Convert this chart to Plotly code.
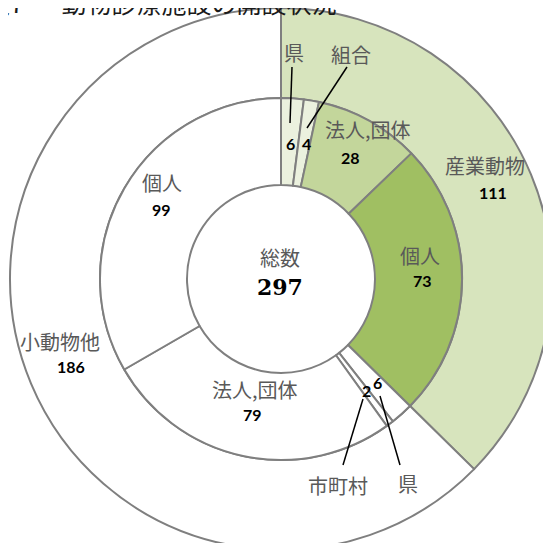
import plotly.graph_objects as go

# data
group_labels = ["産業動物", "小動物他"]
group_values = [111, 186]
sub_labels = ["県", "組合", "法人,団体", "個人", "県", "市町村", "法人,団体", "個人"]
sub_values = [6, 4, 28, 73, 6, 2, 79, 99]
total_label = "総数"
total_value = sum(group_values)
title_text = "表7\u3000\u2002動物診療施設の開設状況"

group_colors = ["#D7E4BD", "#FFFFFF"]
sub_colors = ["#EBF1DE", "#EBF1DE", "#C3D69B", "#A0BF62",
              "#FFFFFF", "#FFFFFF", "#FFFFFF", "#FFFFFF"]

W, H = 551, 543
PAGE = 8  # body margin of the html page shifts the figure by this much
CX, CY = 281, 279
R_OUT, R_MID, R_HOLE = 271, 181, 94
EDGE = "#7F7F7F"
LABEL_FONT = dict(family="Noto Sans CJK JP", size=20, color="#595959")
NUM_FONT = dict(family="Lato", size=16, color="black")


def px(x, y):
    # page pixel -> paper coords
    return (x - PAGE) / W, 1 - (y - PAGE) / H


def domain(r):
    x0, y1 = px(CX - r, CY - r)
    x1, y0 = px(CX + r, CY + r)
    return dict(x=[max(x0, 0), min(x1, 1)], y=[max(y0, 0), min(y1, 1)])


fig = go.Figure()
fig.add_trace(go.Pie(
    labels=group_labels, values=group_values, sort=False, direction="clockwise",
    rotation=0, hole=R_MID / R_OUT, domain=domain(R_OUT), textinfo="none",
    marker=dict(colors=group_colors, line=dict(color=EDGE, width=2)),
    hoverinfo="skip", showlegend=False,
))
fig.add_trace(go.Pie(
    labels=[f"{i}-{s}" for i, s in enumerate(sub_labels)],
    values=sub_values, sort=False, direction="clockwise",
    rotation=0, hole=R_HOLE / R_MID, domain=domain(R_MID), textinfo="none",
    marker=dict(colors=sub_colors, line=dict(color=EDGE, width=2)),
    hoverinfo="skip", showlegend=False,
))

# text positions (pixel centres in the page)
label_pos = {
    "g0": (485, 165), "g0n": (493, 192),
    "g1": (60, 341), "g1n": (71, 366),
    "s2": (368, 130), "s2n": (350, 158),
    "s3": (420, 255), "s3n": (422, 280),
    "s6": (255, 389), "s6n": (252, 414),
    "s7": (162, 182), "s7n": (161, 210),
}
callouts = [  # slice index, label pos, number pos, line start, line end
    (0, (294, 52), (290, 143), (292, 67), (290, 123)),
    (1, (351, 54), (306, 143), (347, 67), (307, 128)),
    (4, (408, 483), (377, 382), (400, 465), (380, 396)),
    (5, (338, 485), (366, 390), (343, 465), (363, 399)),
]

ann = []


def add_text(text, pos, font):
    x, y = px(*pos)
    ann.append(dict(text=text, x=x, y=y, xref="paper", yref="paper",
                    xanchor="center", yanchor="middle", showarrow=False, font=font))


for i, (g, v) in enumerate(zip(group_labels, group_values)):
    add_text(g, label_pos[f"g{i}"], LABEL_FONT)
    add_text(f"<b>{v}</b>", label_pos[f"g{i}n"], NUM_FONT)
for i, (s, v) in enumerate(zip(sub_labels, sub_values)):
    if f"s{i}" in label_pos:
        add_text(s, label_pos[f"s{i}"], LABEL_FONT)
        add_text(f"<b>{v}</b>", label_pos[f"s{i}n"], NUM_FONT)

shapes = []
for idx, lp, npos, a, b in callouts:
    add_text(sub_labels[idx], lp, LABEL_FONT)
    add_text(f"<b>{sub_values[idx]}</b>", npos, NUM_FONT)
    x0, y0 = px(*a)
    x1, y1 = px(*b)
    shapes.append(dict(type="line", xref="paper", yref="paper", x0=x0, y0=y0, x1=x1, y1=y1,
                       line=dict(color="black", width=1.5)))

add_text(total_label, (280, 257), LABEL_FONT)
add_text(f"<b>{total_value}</b>", (280, 287), dict(family="DejaVu Serif", size=22, color="black"))

# title sits mostly above the visible page, as in the reference
tx, ty = px(338, 22)
ann.append(dict(text=title_text, x=tx, y=ty, xref="paper", yref="paper", xanchor="right",
                yanchor="bottom", showarrow=False,
                font=dict(family="Noto Sans CJK JP", size=25, color="#1a1a1a")))

fig.update_layout(
    width=W, height=H, margin=dict(l=0, r=0, t=0, b=0),
    paper_bgcolor="white", plot_bgcolor="white",
    annotations=ann, shapes=shapes,
)

fig.write_html("out.html")
